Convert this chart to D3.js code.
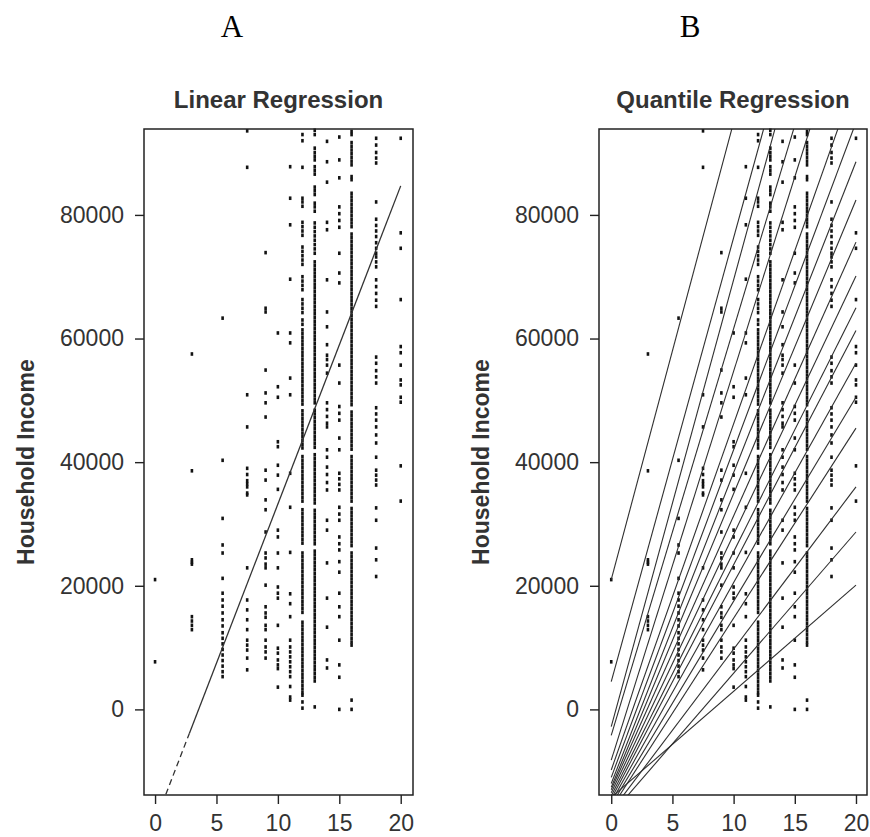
<!DOCTYPE html>
<html>
<head>
<meta charset="utf-8">
<script src="https://cdn.jsdelivr.net/npm/d3@7"></script>
<style>
  html, body { margin: 0; padding: 0; background: #ffffff; }
  svg { display: block; }
</style>
</head>
<body>
<svg id="chart" width="870" height="837"></svg>
<script>
// Years of education (x) and household income observations (y) per level
const educationLevels = [0, 3, 5.5, 7.5, 9, 10, 11, 12, 13, 14, 15, 16, 18, 20];

const income0 = [21000, 7700];
const income3 = [57500, 38600, 24200, 23800, 23500, 15000, 14300, 13600, 12900];
const income5_5 = [63300, 40300, 30900, 26600, 25300, 21200, 18800, 17700, 16700, 15600, 14500, 13500,
  12400, 11500, 10600, 9700, 8800, 7900, 7000, 6100, 5300];
const income7_5 = [93600, 87700, 50900, 45700, 39000, 38000, 37000, 36500, 36000, 35000, 34700, 22900,
  17700, 16100, 14500, 12900, 11200, 10400, 9600, 8300, 6400];
const income9 = [73900, 64900, 64300, 54900, 51200, 49600, 47300, 38700, 37100, 33900, 32300, 28700,
  25300, 24500, 23500, 22900, 20100, 16600, 15600, 14900, 13600, 12900, 11200, 10100, 9300, 8300];
const income10 = [60900, 52200, 50500, 43300, 42500, 39500, 37900, 35600, 29000, 27900, 25300, 22900,
  19800, 18800, 18000, 13600, 9900, 9100, 8000, 7200, 6600, 3600];
const income11 = [87800, 82700, 78400, 69600, 60900, 59300, 53600, 50900, 38200, 32700, 25400, 18700,
  17100, 15000, 11200, 10100, 9300, 8500, 7700, 6900, 6100, 5300, 3700, 2000, 1500];
const income12 = [93000, 92000, 87700, 82700, 82100, 81400, 78800, 78100, 77400, 76700, 74800, 74100,
  73400, 72700, 72000, 70000, 69300, 68600, 67900, 66300, 65600, 64900, 64200, 63000, 62300,
  61400, 60800, 60200, 59600, 59000, 58400, 57800, 57200, 56600, 56000, 55400, 54800, 54200, 53600,
  53000, 52400, 51800, 51200, 50600, 50000, 49400, 48300, 47700, 47100, 46500, 45900, 45300, 44700,
  44100, 43500, 42900, 42300, 40900, 40300, 39700, 39100, 38500, 37900, 37300, 36700, 36100, 35500,
  34900, 34300, 33700, 32300, 31700, 31100, 30500, 29900, 29300, 28700, 28100, 27500, 26900, 25300,
  24700, 24100, 23500, 22900, 22300, 21700, 21100, 20500, 19900, 19300, 18700, 18100, 17500, 16900,
  16300, 15700, 14100, 13500, 12900, 12300, 11700, 11100, 10500, 9900, 9300, 8700, 8100, 7500, 6900,
  6300, 5700, 5100, 4500, 3900, 3300, 2700, 2300, 1200, 200];
const income13 = [93700, 93000, 90800, 90100, 89500, 88900, 87800, 87200, 86600, 84500, 83900, 83300,
  81900, 81300, 80600, 78700, 78000, 77300, 76600, 75900, 75200, 74500, 73800, 72400, 71800, 71200,
  70600, 70000, 69400, 68800, 68200, 67600, 67000, 66400, 65800, 65200, 64600, 64000, 63400, 62800,
  62200, 61600, 61000, 60400, 59800, 59200, 58600, 58000, 57400, 56800, 56200, 55600, 55000, 54400,
  53800, 53200, 52600, 52000, 51400, 50800, 50200, 49600, 48400, 47800, 47200, 46600, 46000, 45400,
  44800, 44200, 43600, 43000, 42400, 41200, 40600, 40000, 39400, 38800, 38200, 37600, 37000, 36400,
  35800, 35200, 34600, 34000, 33400, 32200, 31600, 31000, 30400, 29800, 29200, 28600, 28000, 27400,
  26800, 25600, 25000, 24400, 23800, 23200, 22600, 22000, 21400, 20800, 20200, 19600, 19000, 18400,
  17800, 17200, 16600, 16000, 15400, 14800, 14200, 13600, 13000, 12400, 11800, 11200, 10600, 10000,
  9400, 8800, 8200, 7600, 7000, 6400, 5800, 5200, 4600, 400];
const income14 = [91900, 88600, 85300, 78800, 77600, 69500, 64300, 61900, 59000, 57300, 56600, 55700,
  54400, 49600, 48500, 47400, 46300, 45700, 42000, 40800, 39200, 38000, 36700, 35500, 30600, 29000,
  23700, 18000, 13300, 8000, 6700];
const income15 = [92600, 88900, 86000, 81300, 80200, 79100, 78000, 73800, 70600, 69000, 55700, 52800,
  49000, 47900, 46800, 43900, 42000, 38200, 37300, 36400, 35500, 32700, 31600, 30600, 27900, 26800,
  25800, 23900, 22200, 18800, 16600, 15000, 11200, 7200, 5200, 0];
const income16 = [93500, 93000, 91700, 91100, 90500, 89900, 89300, 88700, 88100, 86200, 85700,
  83500, 82900, 82300, 81700, 81100, 80500, 79900, 79300, 78700, 78100, 76900, 76300, 75700, 75100,
  74500, 73900, 73300, 72700, 72100, 71500, 70900, 70300, 69700, 69100, 68500, 67900, 67300, 66700,
  66100, 65500, 64900, 64300, 63700, 63100, 62500, 61900, 61300, 60700, 60100, 59500, 58900, 58300,
  57700, 57100, 56500, 55900, 55300, 54700, 54100, 53500, 52900, 52300, 51700, 51100, 50500, 49900,
  49300, 48100, 47500, 46900, 46300, 45700, 45100, 44500, 43900, 43300, 42700, 42100, 40900, 40300,
  39700, 39100, 38500, 37900, 37300, 36700, 36100, 35500, 34900, 34300, 33700, 32500, 31900, 31300,
  30700, 30100, 29500, 28900, 28300, 27700, 27100, 26500, 25300, 24700, 24100, 23500, 22900, 22300,
  21700, 21100, 20500, 19900, 19300, 18700, 18100, 17500, 16900, 16300, 15700, 15100, 14500, 13900,
  13300, 12700, 12100, 11500, 10900, 10400, 1500, 0];
const income18 = [92400, 91300, 90100, 89200, 88400, 82100, 79300, 78300, 77400, 76500, 75500, 74600,
  73800, 73200, 72400, 71600, 69500, 68400, 67300, 66200, 65200, 57000, 56000, 54800, 53800, 52800,
  48800, 47800, 46800, 45700, 44400, 43100, 40800, 38700, 37900, 37100, 36300, 32600, 30600, 26100,
  24200, 21500];
const income20 = [92400, 77100, 74600, 66300, 58700, 57700, 55700, 53300, 52500, 50500, 49700, 39400, 33700];

const incomesByLevel = [income0, income3, income5_5, income7_5, income9, income10, income11,
  income12, income13, income14, income15, income16, income18, income20];

// Ordinary least squares fit: intercept and slope per year of education
const olsIntercept = -18260;
const olsSlope = 5148;

// Quantile regression fits, tau = 0.05 ... 0.95 (intercept, slope)
const quantileTaus = [0.05, 0.10, 0.15, 0.20, 0.25, 0.30, 0.35, 0.40, 0.45, 0.50,
  0.55, 0.60, 0.65, 0.70, 0.75, 0.80, 0.85, 0.90, 0.95];
const quantileIntercepts = [-14240, -17000, -16500, -16000, -15500, -15000, -14500, -14000, -13500, -13000,
  -12600, -12000, -11000, -9800, -8200, -4200, -2800, 4500, 21000];
const quantileSlopes = [1717, 2285, 2625, 3075, 3300, 3550, 3790, 3950, 4180, 4430,
  4750, 5030, 5300, 5600, 6290, 6580, 7230, 7180, 7400];

const yTicks = [0, 20000, 40000, 60000, 80000];
const xTicks = [0, 5, 10, 15, 20];

const points = [];
educationLevels.forEach((edu, i) => {
  incomesByLevel[i].forEach(v => points.push({ edu, income: v }));
});

const svg = d3.select("#chart");
svg.append("rect").attr("width", 870).attr("height", 837).attr("fill", "#ffffff");

const plotTop = 129, plotBottom = 795;
const y = d3.scaleLinear().domain([-13850, 93900]).range([plotBottom, plotTop]);

const panels = [
  { id: "A", letterX: 232, title: "Linear Regression", left: 144, right: 413, xDomain: [-0.9, 21.0] },
  { id: "B", letterX: 690, title: "Quantile Regression", left: 599, right: 867, xDomain: [-1.0, 20.9] }
];

const textColor = "#333333";
const sans = "'Liberation Sans', Arial, Helvetica, sans-serif";

panels.forEach(p => {
  const x = d3.scaleLinear().domain(p.xDomain).range([p.left, p.right]);
  const g = svg.append("g");

  // panel letter
  g.append("text")
    .attr("x", p.letterX).attr("y", 37)
    .attr("text-anchor", "middle")
    .attr("font-family", "'Liberation Serif', 'Times New Roman', serif")
    .attr("font-size", 31)
    .attr("fill", "#000")
    .text(p.id);

  // plot title
  g.append("text")
    .attr("x", (p.left + p.right) / 2).attr("y", 108)
    .attr("text-anchor", "middle")
    .attr("font-family", sans)
    .attr("font-weight", "bold")
    .attr("font-size", 24)
    .attr("fill", textColor)
    .text(p.title);

  // y-axis title
  g.append("text")
    .attr("transform", `translate(${p.left - 110},${(plotTop + plotBottom) / 2}) rotate(-90)`)
    .attr("text-anchor", "middle")
    .attr("font-family", sans)
    .attr("font-weight", "bold")
    .attr("font-size", 23)
    .attr("fill", textColor)
    .text("Household Income");

  // clip region for fitted lines
  const clipId = "clip" + p.id;
  svg.append("clipPath").attr("id", clipId)
    .append("rect")
    .attr("x", p.left).attr("y", plotTop)
    .attr("width", p.right - p.left).attr("height", plotBottom - plotTop);

  // scatter points
  g.append("g").selectAll("rect")
    .data(points)
    .join("rect")
    .attr("x", d => x(d.edu) - 1.3)
    .attr("y", d => y(d.income) - 1.8)
    .attr("width", 2.6)
    .attr("height", 3.6)
    .attr("fill", "#121212");

  const lineGen = d3.line().x(d => x(d[0])).y(d => y(d[1]));
  const lines = g.append("g").attr("clip-path", `url(#${clipId})`);

  if (p.id === "A") {
    const fit = e => olsIntercept + olsSlope * e;
    lines.append("path")
      .attr("d", lineGen([[0, fit(0)], [2.8, fit(2.8)]]))
      .attr("fill", "none").attr("stroke", "#333").attr("stroke-width", 1.3)
      .attr("stroke-dasharray", "6,4");
    lines.append("path")
      .attr("d", lineGen([[2.8, fit(2.8)], [20, fit(20)]]))
      .attr("fill", "none").attr("stroke", "#333").attr("stroke-width", 1.3);
  } else {
    quantileTaus.forEach((tau, i) => {
      const fit = e => quantileIntercepts[i] + quantileSlopes[i] * e;
      lines.append("path")
        .attr("d", lineGen([[0, fit(0)], [20, fit(20)]]))
        .attr("fill", "none").attr("stroke", "#2f2f2f").attr("stroke-width", 1.1);
    });
  }

  // axes
  const yAxis = d3.axisLeft(y).tickValues(yTicks).tickSize(9).tickPadding(11).tickFormat(d3.format("d"));
  const xAxis = d3.axisBottom(x).tickValues(xTicks).tickSize(9).tickPadding(11).tickFormat(d3.format("d"));

  const ya = g.append("g").attr("transform", `translate(${p.left},0)`).call(yAxis);
  const xa = g.append("g").attr("transform", `translate(0,${plotBottom})`).call(xAxis);
  [ya, xa].forEach(a => {
    a.select(".domain").remove();
    a.selectAll(".tick line").attr("stroke", "#222").attr("stroke-width", 1.4);
    a.selectAll(".tick text")
      .attr("font-family", sans)
      .attr("font-size", 23)
      .attr("fill", textColor);
  });

  // plot frame
  g.append("rect")
    .attr("x", p.left).attr("y", plotTop)
    .attr("width", p.right - p.left).attr("height", plotBottom - plotTop)
    .attr("fill", "none").attr("stroke", "#222").attr("stroke-width", 1.5);
});
</script>
</body>
</html>
